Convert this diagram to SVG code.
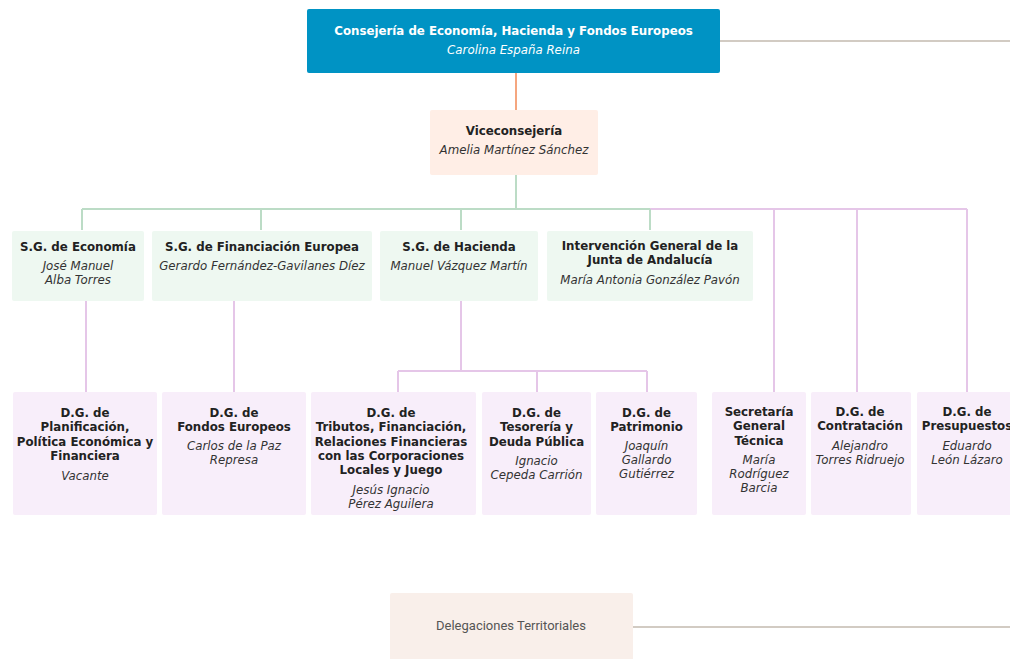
<svg xmlns="http://www.w3.org/2000/svg" width="1010" height="659" viewBox="0 0 1010 659">
<style>
.t{font-family:"DejaVu Sans",Verdana,sans-serif;font-size:11.8px;font-weight:bold;fill:#222;text-anchor:middle}
.n{font-family:"DejaVu Sans",Verdana,sans-serif;font-size:11.8px;font-style:italic;fill:#333;text-anchor:middle}
.w{fill:#fff}
.sg{fill:#EEF8F1}
.dg{fill:#F8EEFA}
.g{stroke:#BCDCC6;stroke-width:2;fill:none}
.p{stroke:#E5C6E8;stroke-width:2;fill:none}
.gr{stroke:#D2CBC3;stroke-width:2;fill:none}
</style>
<rect width="1010" height="659" fill="#fff"/>
<g id="connectors">
<line class="gr" x1="720" y1="41" x2="1010" y2="41"/>
<line x1="516" y1="73" x2="516" y2="110" stroke="#F5A67F" stroke-width="2"/>
<path class="p" d="M650 209H967M774 209V392M857 209V392M967 209V392"/>
<path class="g" d="M516 175V209M82 209H650M82 209V230M261 209V230M461 209V230M650 209V230"/>
<path class="p" d="M86 301V392M234 301V392M461 301V371M398 371H647M398 371V392M537 371V392M647 371V392"/>
<line class="gr" x1="633" y1="627" x2="1010" y2="627"/>
</g>
<g id="consejeria">
<rect x="307" y="9" width="413" height="64" rx="2" fill="#0093C4"/>
<text class="t w" x="513.5" y="35">Consejería de Economía, Hacienda y Fondos Europeos</text>
<text class="n w" x="513.5" y="54">Carolina España Reina</text>
</g>
<g id="viceconsejeria">
<rect x="430" y="110" width="168" height="65" rx="2" fill="#FFEEE6"/>
<text class="t" x="514" y="135">Viceconsejería</text>
<text class="n" x="514" y="154">Amelia Martínez Sánchez</text>
</g>
<g id="sg-economia">
<rect class="sg" x="12" y="231" width="132" height="70" rx="2"/>
<text class="t" x="78" y="251">S.G. de Economía</text>
<text class="n" x="78" y="270">José Manuel</text>
<text class="n" x="78" y="284">Alba Torres</text>
</g>
<g id="sg-financiacion">
<rect class="sg" x="152" y="231" width="220" height="70" rx="2"/>
<text class="t" x="262" y="251">S.G. de Financiación Europea</text>
<text class="n" x="262" y="270">Gerardo Fernández-Gavilanes Díez</text>
</g>
<g id="sg-hacienda">
<rect class="sg" x="380" y="231" width="158" height="70" rx="2"/>
<text class="t" x="459" y="251">S.G. de Hacienda</text>
<text class="n" x="459" y="270">Manuel Vázquez Martín</text>
</g>
<g id="intervencion">
<rect class="sg" x="547" y="231" width="206" height="70" rx="2"/>
<text class="t" x="650" y="250">Intervención General de la</text>
<text class="t" x="650" y="264">Junta de Andalucía</text>
<text class="n" x="650" y="284">María Antonia González Pavón</text>
</g>
<g id="dg-planificacion">
<rect class="dg" x="13" y="392" width="144" height="123" rx="2"/>
<text class="t" x="85" y="417">D.G. de</text>
<text class="t" x="85" y="431">Planificación,</text>
<text class="t" x="85" y="446">Política Económica y</text>
<text class="t" x="85" y="460">Financiera</text>
<text class="n" x="85" y="480">Vacante</text>
</g>
<g id="dg-fondos">
<rect class="dg" x="162" y="392" width="144" height="123" rx="2"/>
<text class="t" x="234" y="417">D.G. de</text>
<text class="t" x="234" y="431">Fondos Europeos</text>
<text class="n" x="234" y="450">Carlos de la Paz</text>
<text class="n" x="234" y="464">Represa</text>
</g>
<g id="dg-tributos">
<rect class="dg" x="311" y="392" width="165" height="123" rx="2"/>
<text class="t" x="391" y="417">D.G. de</text>
<text class="t" x="391" y="431">Tributos, Financiación,</text>
<text class="t" x="391" y="446">Relaciones Financieras</text>
<text class="t" x="391" y="460">con las Corporaciones</text>
<text class="t" x="391" y="474">Locales y Juego</text>
<text class="n" x="391" y="494">Jesús Ignacio</text>
<text class="n" x="391" y="508">Pérez Aguilera</text>
</g>
<g id="dg-tesoreria">
<rect class="dg" x="482" y="392" width="109" height="123" rx="2"/>
<text class="t" x="536.5" y="417">D.G. de</text>
<text class="t" x="536.5" y="431">Tesorería y</text>
<text class="t" x="536.5" y="446">Deuda Pública</text>
<text class="n" x="536.5" y="465">Ignacio</text>
<text class="n" x="536.5" y="479">Cepeda Carrión</text>
</g>
<g id="dg-patrimonio">
<rect class="dg" x="596" y="392" width="101" height="123" rx="2"/>
<text class="t" x="646.5" y="417">D.G. de</text>
<text class="t" x="646.5" y="431">Patrimonio</text>
<text class="n" x="646.5" y="450">Joaquín</text>
<text class="n" x="646.5" y="464">Gallardo</text>
<text class="n" x="646.5" y="478">Gutiérrez</text>
</g>
<g id="sgt">
<rect class="dg" x="712" y="392" width="94" height="123" rx="2"/>
<text class="t" x="759" y="416">Secretaría</text>
<text class="t" x="759" y="430">General</text>
<text class="t" x="759" y="445">Técnica</text>
<text class="n" x="759" y="464">María</text>
<text class="n" x="759" y="478">Rodríguez</text>
<text class="n" x="759" y="492">Barcia</text>
</g>
<g id="dg-contratacion">
<rect class="dg" x="811" y="392" width="100" height="123" rx="2"/>
<text class="t" x="860" y="416">D.G. de</text>
<text class="t" x="860" y="430">Contratación</text>
<text class="n" x="860" y="450">Alejandro</text>
<text class="n" x="860" y="464">Torres Ridruejo</text>
</g>
<g id="dg-presupuestos">
<rect class="dg" x="917" y="392" width="100" height="123" rx="2"/>
<text class="t" x="967" y="416">D.G. de</text>
<text class="t" x="967" y="430">Presupuestos</text>
<text class="n" x="967" y="450">Eduardo</text>
<text class="n" x="967" y="464">León Lázaro</text>
</g>
<g id="delegaciones">
<rect x="390" y="593" width="243" height="70" rx="2" fill="#F9EFEA"/>
<text x="511" y="630" font-family="Roboto,'Liberation Sans',sans-serif" font-size="13" fill="#555" text-anchor="middle">Delegaciones Territoriales</text>
</g>
</svg>
